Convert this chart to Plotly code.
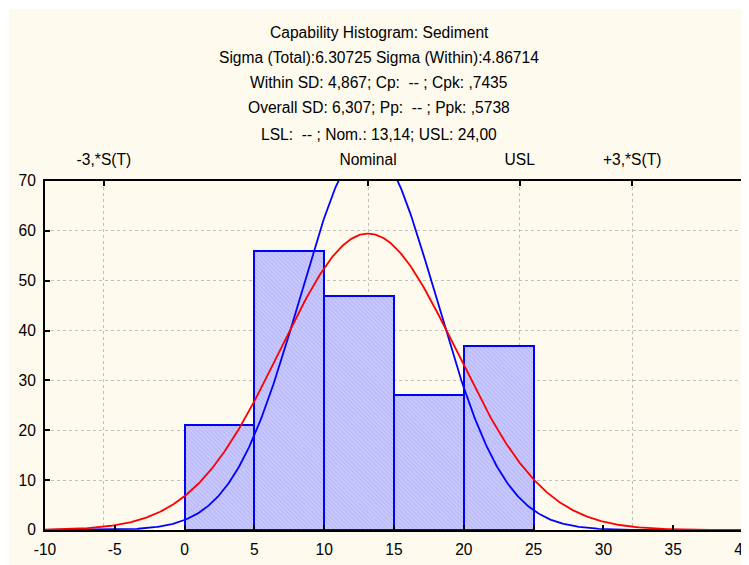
import numpy as np
import plotly.graph_objects as go

# Data
bin_lefts = [0, 5, 10, 15, 20]
bin_width = 5
counts = [21, 56, 47, 27, 37]
mean = 13.14
sigma_total = 6.30725
sigma_within = 4.86714
usl = 24.0
x_tick_vals = list(range(-10, 41, 5))
x_tick_text = [str(v) for v in x_tick_vals]
y_tick_vals = list(range(0, 71, 10))
top_tick_vals = [mean - 3 * sigma_total, mean, usl, mean + 3 * sigma_total]
top_tick_text = ["-3,*S(T)", "Nominal", "USL", "+3,*S(T)"]
title_lines = [
    "Capability Histogram: Sediment",
    "Sigma (Total):6.30725 Sigma (Within):4.86714",
    "Within SD: 4,867; Cp:  -- ; Cpk: ,7435",
    "Overall SD: 6,307; Pp:  -- ; Ppk: ,5738",
    "LSL:  -- ; Nom.: 13,14; USL: 24,00",
]

n_total = sum(counts)
xs = np.linspace(-10, 40, 601)


def normal_curve(sd):
    return n_total * bin_width * np.exp(-0.5 * ((xs - mean) / sd) ** 2) / (sd * np.sqrt(2 * np.pi))


FONT = "Liberation Sans, Arial, sans-serif"
FS = 15.6
fig = go.Figure()

fig.add_trace(go.Bar(
    x=[b + bin_width / 2 for b in bin_lefts], y=counts, width=bin_width,
    marker=dict(color="#c0c0fa", line=dict(color="#0000ff", width=2),
                pattern=dict(shape="\\", fgcolor="#a2a2f6", bgcolor="#cacafe", size=3, solidity=0.4)),
    showlegend=False, hoverinfo="skip"))

fig.add_trace(go.Scatter(x=xs, y=normal_curve(sigma_within), mode="lines",
                         line=dict(color="#0000ff", width=1.8), showlegend=False))
fig.add_trace(go.Scatter(x=xs, y=normal_curve(sigma_total), mode="lines",
                         line=dict(color="#ff0000", width=1.8), showlegend=False))

# invisible trace to host top axis
fig.add_trace(go.Scatter(x=top_tick_vals, y=[None] * 4, xaxis="x2", mode="markers",
                         marker=dict(opacity=0), showlegend=False, hoverinfo="skip"))

line_y_px = [32, 57, 83, 108, 134]
for txt, ypx in zip(title_lines, line_y_px):
    fig.add_annotation(text=txt, xref="paper", yref="paper", x=(379 - 45) / 698, y=(530 - ypx) / 349,
                       xanchor="center", yanchor="middle", showarrow=False,
                       font=dict(family=FONT, size=FS, color="#000000"))

fig.add_shape(type="rect", xref="paper", yref="paper", x0=(9 - 45) / 698, x1=(760 - 45) / 698,
              y0=(530 - 575) / 349, y1=(530 - 9) / 349, fillcolor="#fefaee", line=dict(width=0),
              layer="below")

fig.update_layout(
    width=749, height=565,
    margin=dict(l=37, r=14, t=173, b=43, autoexpand=False),
    paper_bgcolor="#ffffff", plot_bgcolor="#ffffff",
    font=dict(family=FONT, size=FS, color="#000000"),
    bargap=0,
    xaxis=dict(range=[-10, 40], tickvals=x_tick_vals, ticktext=x_tick_text, ticks="inside", ticklen=5,
               tickcolor="#000", tickwidth=2, showgrid=False, zeroline=False,
               showline=True, linecolor="#000", linewidth=2, mirror=False,
               ticklabelstandoff=4, automargin=False),
    xaxis2=dict(range=[-10, 40], overlaying="x", side="top", tickvals=top_tick_vals,
                ticktext=top_tick_text, ticks="inside", ticklen=5, tickcolor="#000", tickwidth=2,
                showgrid=True, gridcolor="#c0c0c0", griddash="dot", gridwidth=1, zeroline=False,
                showline=True, linecolor="#000", linewidth=2, ticklabelstandoff=8, automargin=False),
    yaxis=dict(range=[0, 70], tickvals=y_tick_vals, ticks="inside", ticklen=5,
               tickcolor="#000", tickwidth=2, showgrid=True, gridcolor="#c0c0c0", griddash="dot",
               gridwidth=1, zeroline=False, showline=True, linecolor="#000", linewidth=2,
               mirror=True, ticklabelstandoff=4, automargin=False),
)

fig.write_html("out.html")
